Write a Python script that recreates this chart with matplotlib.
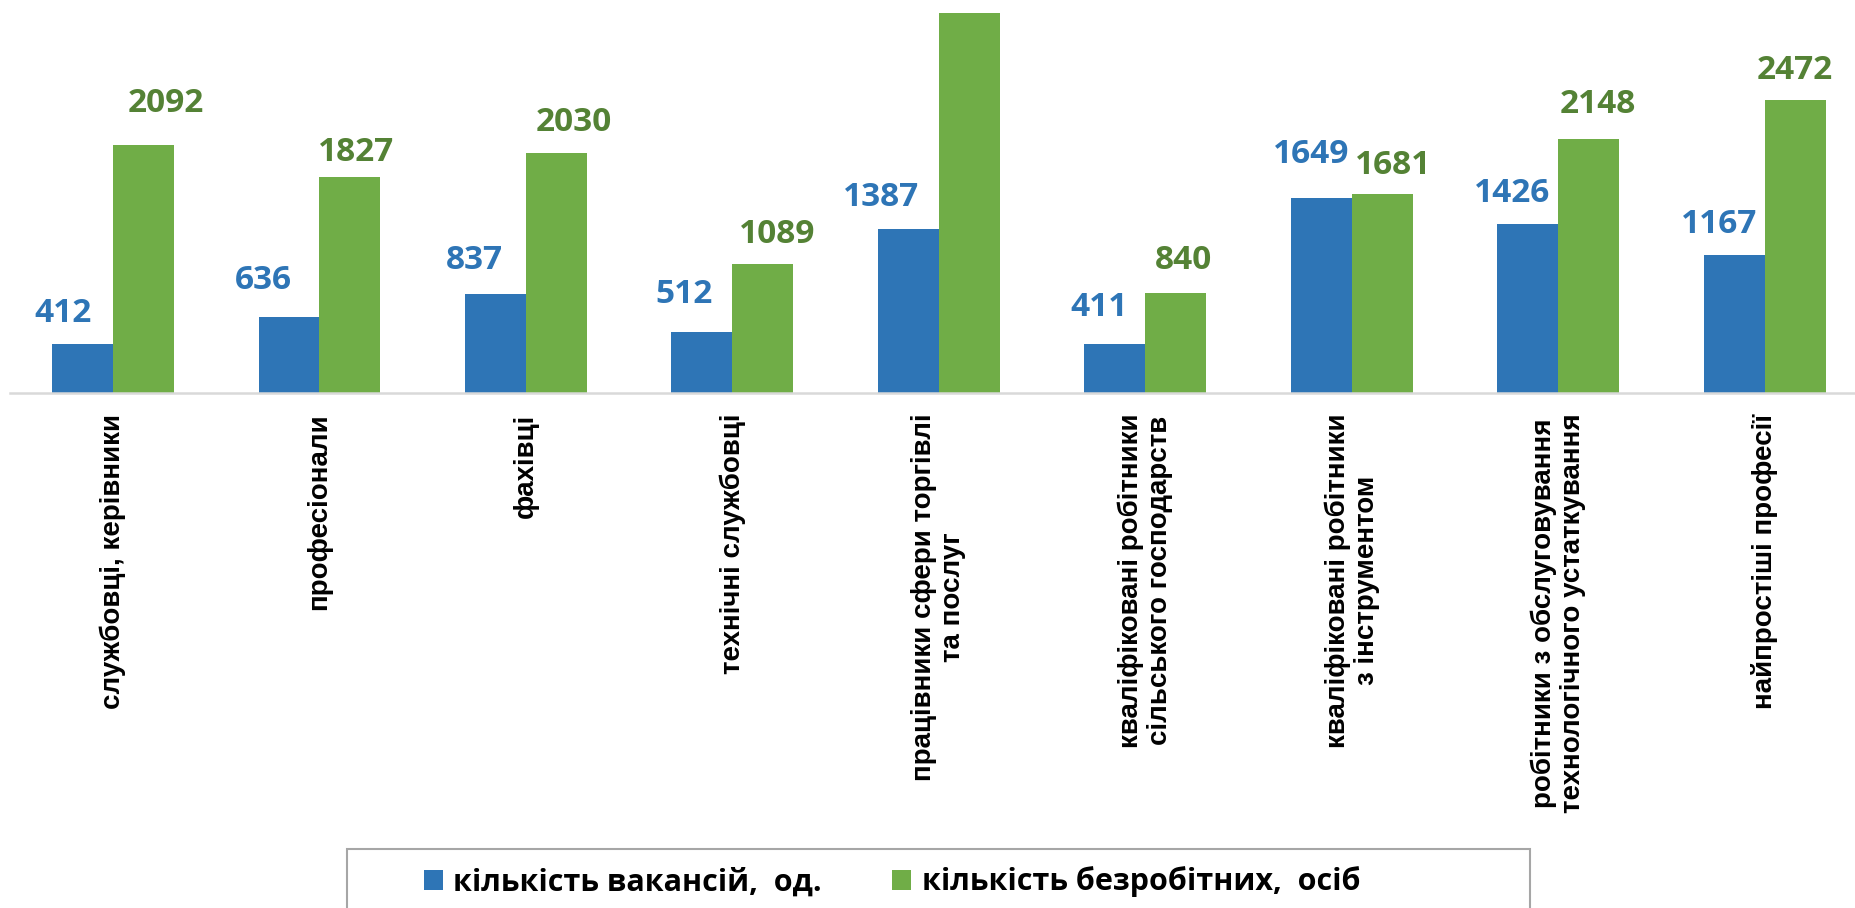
import numpy as np
import matplotlib
matplotlib.use("Agg")
import matplotlib.pyplot as plt
from matplotlib.patches import Rectangle

# categories and values
categories = [
    "службовці, керівники",
    "професіонали",
    "фахівці",
    "технічні службовці",
    "працівники сфери торгівлі\nта послуг",
    "кваліфіковані робітники\nсільського господарств",
    "кваліфіковані робітники\nз інструментом",
    "робітники з обслуговування\nтехнологічного устаткування",
    "найпростіші професії",
]
vacancies = [412, 636, 837, 512, 1387, 411, 1649, 1426, 1167]
# 5th green bar is cut off by the plot top in the original, value not shown
unemployed = [2092, 1827, 2030, 1089, 3400, 840, 1681, 2148, 2472]
series_names = ["кількість вакансій,  од.", "кількість безробітних,  осіб"]

# label nudges in pixels (labels were moved by hand in the source)
blue_dx = [-20, -26, -21, -18, -27, -16, -10, -16, -15]
blue_dy = [22, 28, 25, 29, 23, 28, 35, 22, 22]
green_dx = [22, 6, 17, 14, 0, 8, 11, 9, 0]
green_dy = [33, 16, 22, 21, 21, 24, 20, 26, 21]

BLUE = "#2E75B6"
GREEN = "#70AD47"
GREEN_TXT = "#548235"
LABEL_FONT = ["Open Sans", "DejaVu Sans"]
CAT_FONT = ["Liberation Sans", "DejaVu Sans"]

W, H = 1856, 908
fig = plt.figure(figsize=(W / 100, H / 100), dpi=100)
ymax = 3213
ax = fig.add_axes([9.75 / W, (H - 392.7) / H, (1868 - 9.75) / W, 380 / H])

x = np.arange(len(categories))
bw = 0.295
ax.bar(x - bw / 2, vacancies, bw, color=BLUE, label=series_names[0])
ax.bar(x + bw / 2, unemployed, bw, color=GREEN, label=series_names[1])

ax.set_xlim(-0.5, len(categories) - 0.5)
ax.set_ylim(0, ymax)

for i in range(len(categories)):
    ax.annotate(str(vacancies[i]), (x[i] - bw / 2, vacancies[i]),
                xytext=(blue_dx[i], blue_dy[i]), textcoords="offset pixels",
                ha="center", va="baseline", color=BLUE, fontsize=24,
                fontweight="bold", family=LABEL_FONT)
    if unemployed[i] < ymax:
        ax.annotate(str(unemployed[i]), (x[i] + bw / 2, unemployed[i]),
                    xytext=(green_dx[i], green_dy[i]), textcoords="offset pixels",
                    ha="center", va="baseline", color=GREEN_TXT, fontsize=24,
                    fontweight="bold", family=LABEL_FONT)

ax.set_xticks(x)
ax.set_xticklabels(categories, rotation=90, fontsize=20, fontweight="bold",
                   family=CAT_FONT, multialignment="center", linespacing=1.15)
ax.tick_params(axis="x", length=0, pad=15)
ax.set_yticks([])
for s in ["top", "left", "right"]:
    ax.spines[s].set_visible(False)
ax.spines["bottom"].set_color("#D9D9D9")
ax.spines["bottom"].set_linewidth(1.8)

# legend box, cut off at the bottom like the source
fig.patches.append(Rectangle((347 / W, -0.05), (1530 - 347) / W, (H - 849) / H + 0.05,
                             transform=fig.transFigure, fill=False,
                             edgecolor="#A6A6A6", linewidth=1.5))
handles, labels = ax.get_legend_handles_labels()
fig.legend(handles, labels, loc="center", bbox_to_anchor=(892 / W, (H - 882) / H),
           ncol=2, frameon=False, prop={"family": LABEL_FONT, "size": 22, "weight": "bold"},
           handlelength=0.62, handleheight=0.62, handletextpad=0.35, columnspacing=2.3)

fig.savefig("out.png", dpi=100)
